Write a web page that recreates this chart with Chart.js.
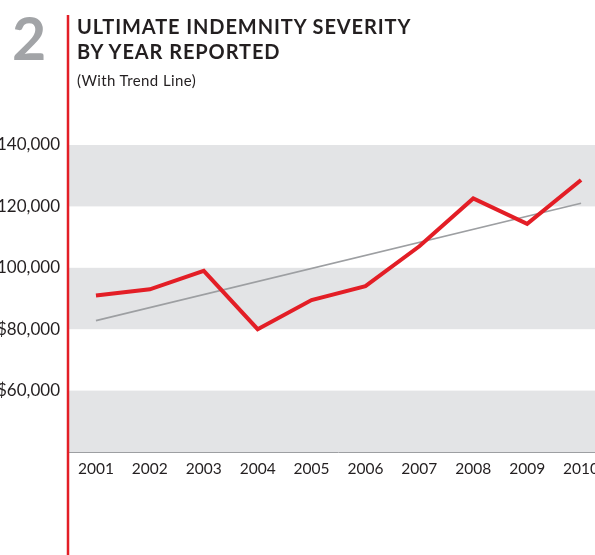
<!DOCTYPE html>
<html>
<head>
<meta charset="utf-8">
<script src="https://cdn.jsdelivr.net/npm/chart.js@4"></script>
<style>
	html, body { margin: 0; padding: 0; background: #fff; overflow: hidden; width: 595px; height: 555px; }
	#wrap { position: relative; width: 595px; height: 555px; overflow: hidden; }
	#chartBox { position: absolute; left: -20px; top: 0; width: 635px; height: 555px; }
	.num { position: absolute; left: 12px; top: 10px; font: bold 59px 'Lato', sans-serif; color: #a2a4a7; line-height: 56px; }
	.title { position: absolute; left: 77px; top: 14px; font: bold 20px 'Lato', sans-serif; color: #231f20; line-height: 25px; letter-spacing: 0.9px; }
	.sub { position: absolute; left: 77px; top: 71px; font: 15px 'Lato', sans-serif; color: #231f20; letter-spacing: 0.4px; }
</style>
</head>
<body>
<div id="wrap">
	<div id="chartBox"><canvas id="myChart"></canvas></div>
	<div class="num">2</div>
	<div class="title">ULTIMATE INDEMNITY SEVERITY<br>BY YEAR REPORTED</div>
	<div class="sub">(With Trend Line)</div>
</div>
<script>
// data
const years = ['2001', '2002', '2003', '2004', '2005', '2006', '2007', '2008', '2009', '2010'];
const severity = [91000, 93000, 99000, 80000, 89500, 94000, 107000, 122600, 114300, 128600];
// trend line end points (2001 and 2010)
const trend = [82800, null, null, null, null, null, null, null, null, 121000];
const yTicks = [40000, 60000, 80000, 100000, 120000, 140000];
const bands = [[120000, 140000], [80000, 100000], [40000, 60000]];

const red = '#e31e26';

// grey bands + the red rule on the left
const decor = {
	id: 'decor',
	beforeDatasetsDraw(chart) {
		const { ctx, chartArea, scales } = chart;
		ctx.save();
		ctx.fillStyle = '#e3e4e6';
		bands.forEach(([lo, hi]) => {
			const y1 = scales.y.getPixelForValue(hi);
			const y2 = scales.y.getPixelForValue(lo);
			ctx.fillRect(chartArea.left, y1, chartArea.right - chartArea.left, y2 - y1);
		});
		ctx.strokeStyle = '#9d9fa2';
		ctx.lineWidth = 1;
		ctx.beginPath();
		ctx.moveTo(chartArea.left, chartArea.bottom + 0.5);
		ctx.lineTo(chartArea.right, chartArea.bottom + 0.5);
		ctx.stroke();
		ctx.restore();
	},
	afterDraw(chart) {
		const { ctx, chartArea } = chart;
		ctx.save();
		ctx.strokeStyle = red;
		ctx.lineWidth = 2.5;
		ctx.beginPath();
		ctx.moveTo(chartArea.left - 1, 15);
		ctx.lineTo(chartArea.left - 1, chart.height);
		ctx.stroke();
		ctx.restore();
	}
};

let canvas = document.getElementById('myChart').getContext('2d');
let myChart = new Chart(canvas, {
	type: 'line',
	data: {
		labels: years,
		datasets: [
			{
				label: 'Trend',
				data: trend,
				borderColor: '#9d9fa2',
				borderWidth: 1.6,
				pointRadius: 0,
				spanGaps: true,
				order: 2
			},
			{
				label: 'Severity',
				data: severity,
				borderColor: red,
				borderWidth: 4,
				pointRadius: 0,
				tension: 0,
				order: 1
			}
		]
	},
	options: {
		responsive: true,
		maintainAspectRatio: false,
		animation: false,
		layout: { padding: { top: 145, right: 7, left: 0, bottom: 0 } },
		plugins: {
			legend: { display: false },
			tooltip: { enabled: false }
		},
		scales: {
			x: {
				offset: true,
				grid: { display: false, drawTicks: false },
				border: { display: false },
				ticks: {
					color: '#231f20',
					font: { family: 'Lato', size: 15.5 },
					padding: 8,
					maxRotation: 0
				},
				afterFit: (scale) => { scale.height = 103; }
			},
			y: {
				min: 40000,
				max: 140000,
				grid: { display: false, drawTicks: false },
				border: { display: false },
				afterBuildTicks: (scale) => { scale.ticks = yTicks.map(v => ({ value: v })); },
				ticks: {
					color: '#231f20',
					font: { family: 'Lato', size: 17 },
					padding: 9,
					callback: (v) => v === 40000 ? '' : '$' + v.toLocaleString('en-US')
				},
				afterFit: (scale) => { scale.width = 89; }
			}
		}
	},
	plugins: [decor]
});
</script>
</body>
</html>
